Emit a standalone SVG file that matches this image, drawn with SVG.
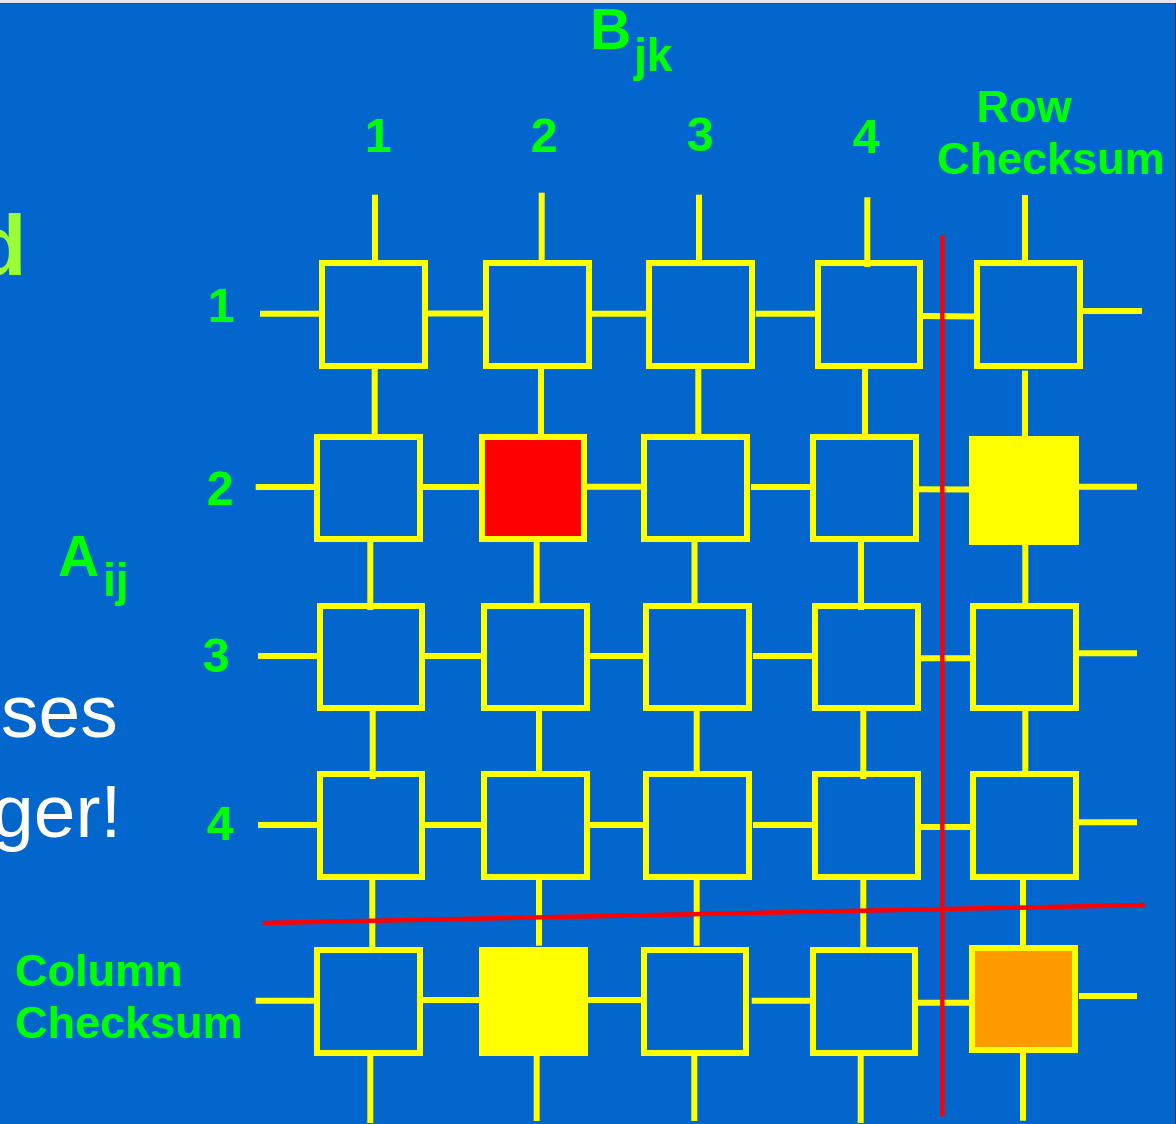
<svg xmlns="http://www.w3.org/2000/svg" width="1176" height="1124" viewBox="0 0 1176 1124">
  <style>
    .cell { fill: none; stroke: #FFFF00; stroke-width: 6; }
    .cell.hit { fill: #FF0000; }
    .cell.check { fill: #FF9900; }
    .solid { fill: #FFFF00; }
    .conn line { stroke: #FFFF00; stroke-width: 6; }
    .red line { stroke: #FF0000; stroke-width: 4.5; }
    .lbl { font-family: "Liberation Sans", Arial, sans-serif; font-weight: bold; fill: #00FF00; }
    .white { font-family: "Liberation Sans", Arial, sans-serif; fill: #FFFFFF; }
  </style>
  <rect x="0" y="0" width="1176" height="1124" fill="#0366CC"/>
  <rect x="0" y="0" width="1176" height="3" fill="#E6E6E6"/>
  <line x1="0" y1="3.5" x2="1176" y2="3.5" stroke="#4A4A4A" stroke-width="1"/>
  <line x1="1175.5" y1="3" x2="1175.5" y2="1124" stroke="#1A3A66" stroke-width="1"/>

  <!-- background text fragments -->
  <text x="-26" y="275" font-family="Liberation Sans, Arial, sans-serif" font-weight="bold" font-size="86" fill="#99FF33">d</text>
  <text class="white" x="1" y="737" font-size="75">ses</text>
  <text class="white" x="-8" y="837" font-size="75">ger!</text>

  <!-- labels -->
  <g id="label-B">
    <text class="lbl" x="590" y="49" font-size="57">B</text>
    <text class="lbl" x="634" y="71" font-size="46">jk</text>
  </g>
  <g id="label-A">
    <text class="lbl" x="58" y="576" font-size="57">A</text>
    <text class="lbl" x="103" y="596" font-size="46">ij</text>
  </g>
  <g id="col-labels" font-size="48" text-anchor="middle">
    <text class="lbl" x="378" y="152">1</text>
    <text class="lbl" x="544" y="152">2</text>
    <text class="lbl" x="700" y="151">3</text>
    <text class="lbl" x="866" y="153">4</text>
  </g>
  <g id="row-labels" font-size="48" text-anchor="middle">
    <text class="lbl" x="221" y="322">1</text>
    <text class="lbl" x="220" y="505">2</text>
    <text class="lbl" x="216" y="672">3</text>
    <text class="lbl" x="220" y="840">4</text>
  </g>
  <g id="row-checksum-label">
    <text class="lbl" x="1024" y="122" font-size="45" text-anchor="middle">Row</text>
    <text class="lbl" x="937" y="174" font-size="45">Checksum</text>
  </g>
  <g id="col-checksum-label">
    <text class="lbl" x="15" y="986" font-size="45">Column</text>
    <text class="lbl" x="15" y="1038" font-size="45">Checksum</text>
  </g>

  <!-- connectors -->
  <g id="connectors" class="conn">
    <line x1="260" y1="313.7" x2="319" y2="313.7"/>
    <line x1="428" y1="313.5" x2="483" y2="313.5"/>
    <line x1="592" y1="313.7" x2="646" y2="313.7"/>
    <line x1="755.7" y1="313.7" x2="815" y2="313.7"/>
    <line x1="923" y1="316" x2="974" y2="316.5"/>
    <line x1="1083" y1="311" x2="1142" y2="311"/>

    <line x1="255.7" y1="487" x2="314" y2="487"/>
    <line x1="423" y1="487" x2="479" y2="487"/>
    <line x1="587" y1="486.7" x2="641" y2="486.7"/>
    <line x1="751" y1="487" x2="810" y2="487"/>
    <line x1="918" y1="489.3" x2="969" y2="489.5"/>
    <line x1="1079" y1="486.7" x2="1137" y2="486.7"/>

    <line x1="258" y1="656" x2="317" y2="656"/>
    <line x1="425" y1="656" x2="481" y2="656"/>
    <line x1="590" y1="656" x2="643" y2="656"/>
    <line x1="753" y1="656" x2="812" y2="656"/>
    <line x1="921" y1="658.3" x2="970" y2="658.3"/>
    <line x1="1079" y1="653.3" x2="1137" y2="653.3"/>

    <line x1="258" y1="825" x2="317" y2="825"/>
    <line x1="425" y1="825" x2="481" y2="825"/>
    <line x1="590" y1="825" x2="643" y2="825"/>
    <line x1="753" y1="825" x2="812" y2="825"/>
    <line x1="921" y1="827" x2="970" y2="827"/>
    <line x1="1079" y1="822.3" x2="1137" y2="822.3"/>

    <line x1="255.7" y1="1000.7" x2="314" y2="1000.7"/>
    <line x1="423" y1="1000" x2="479" y2="1000"/>
    <line x1="587" y1="1000" x2="641" y2="1000"/>
    <line x1="751.7" y1="1000.7" x2="810" y2="1000.7"/>
    <line x1="918" y1="1002.7" x2="969" y2="1002.7"/>
    <line x1="1079" y1="996" x2="1137" y2="996"/>

    <line x1="375" y1="194.7" x2="375" y2="260"/>
    <line x1="374.7" y1="369" x2="374.7" y2="434"/>
    <line x1="370.3" y1="542" x2="370.3" y2="610"/>
    <line x1="372.7" y1="711" x2="372.7" y2="779"/>
    <line x1="372.3" y1="880" x2="372.3" y2="947"/>
    <line x1="370.3" y1="1056" x2="370.3" y2="1123"/>

    <line x1="541.7" y1="192.7" x2="541.7" y2="260"/>
    <line x1="541" y1="369" x2="541" y2="434"/>
    <line x1="536.7" y1="542" x2="536.7" y2="603"/>
    <line x1="539" y1="711" x2="539" y2="771"/>
    <line x1="539" y1="880" x2="539" y2="945.7"/>
    <line x1="536.7" y1="1056" x2="536.7" y2="1121"/>

    <line x1="699" y1="194.7" x2="699" y2="260"/>
    <line x1="698.3" y1="369" x2="698.3" y2="434"/>
    <line x1="694.5" y1="542" x2="694.5" y2="603"/>
    <line x1="696.7" y1="711" x2="696.7" y2="771"/>
    <line x1="696.7" y1="880" x2="696.7" y2="945.7"/>
    <line x1="694.3" y1="1056" x2="694.3" y2="1121"/>

    <line x1="867.3" y1="197.3" x2="867.3" y2="267"/>
    <line x1="865" y1="369" x2="865" y2="434"/>
    <line x1="861" y1="542" x2="861" y2="610"/>
    <line x1="863.3" y1="711" x2="863.3" y2="779"/>
    <line x1="863.3" y1="880" x2="863.3" y2="947"/>
    <line x1="860.7" y1="1056" x2="860.7" y2="1123"/>

    <line x1="1025" y1="195" x2="1025" y2="260"/>
    <line x1="1025" y1="370.7" x2="1025" y2="436"/>
    <line x1="1025.3" y1="545" x2="1025.3" y2="603"/>
    <line x1="1025.3" y1="711" x2="1025.3" y2="771"/>
    <line x1="1023" y1="879.3" x2="1023" y2="945"/>
    <line x1="1023" y1="1053" x2="1023" y2="1120.7"/>
  </g>

  <!-- nodes -->
  <g id="n11"><rect class="cell" x="322" y="263" width="103" height="103"/></g>
  <g id="n12"><rect class="cell" x="486" y="263" width="103" height="103"/></g>
  <g id="n13"><rect class="cell" x="649" y="263" width="103" height="103"/></g>
  <g id="n14"><rect class="cell" x="818" y="263" width="102" height="103"/></g>
  <g id="n15"><rect class="cell" x="977" y="263" width="103" height="103"/></g>

  <g id="n21"><rect class="cell" x="317" y="437" width="103" height="102"/></g>
  <g id="n22"><rect class="cell hit" x="482" y="437" width="102" height="102"/></g>
  <g id="n23"><rect class="cell" x="644" y="437" width="103" height="102"/></g>
  <g id="n24"><rect class="cell" x="813" y="437" width="103" height="102"/></g>
  <g id="n25"><rect class="solid" x="969" y="436" width="110" height="109"/></g>

  <g id="n31"><rect class="cell" x="320" y="606" width="102" height="102"/></g>
  <g id="n32"><rect class="cell" x="484" y="606" width="103" height="102"/></g>
  <g id="n33"><rect class="cell" x="646" y="606" width="103" height="102"/></g>
  <g id="n34"><rect class="cell" x="815" y="606" width="103" height="102"/></g>
  <g id="n35"><rect class="cell" x="973" y="606" width="103" height="102"/></g>

  <g id="n41"><rect class="cell" x="320" y="774" width="102" height="103"/></g>
  <g id="n42"><rect class="cell" x="484" y="774" width="103" height="103"/></g>
  <g id="n43"><rect class="cell" x="646" y="774" width="103" height="103"/></g>
  <g id="n44"><rect class="cell" x="815" y="774" width="103" height="103"/></g>
  <g id="n45"><rect class="cell" x="973" y="774" width="103" height="103"/></g>

  <g id="n51"><rect class="cell" x="317" y="950" width="103" height="103"/></g>
  <g id="n52"><rect class="solid" x="479" y="947" width="109" height="109"/></g>
  <g id="n53"><rect class="cell" x="644" y="950" width="102" height="103"/></g>
  <g id="n54"><rect class="cell" x="813" y="950" width="102" height="103"/></g>
  <g id="n55"><rect class="cell check" x="972" y="948" width="103" height="102"/></g>

  <!-- red checksum dividers -->
  <g id="dividers" class="red">
    <line x1="942.3" y1="235" x2="942.3" y2="1116.5"/>
    <line x1="263" y1="923" x2="1145" y2="905"/>
  </g>
</svg>
